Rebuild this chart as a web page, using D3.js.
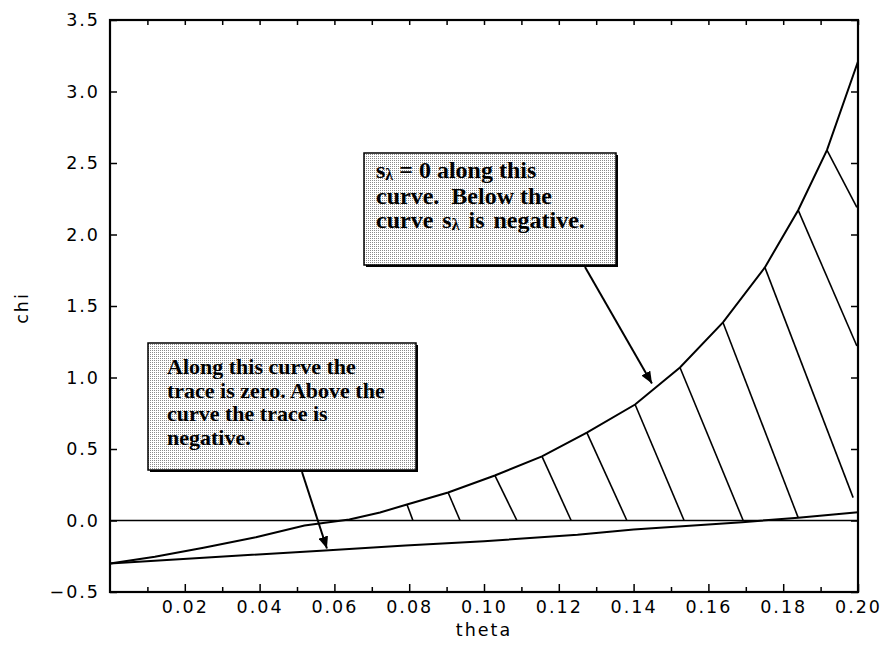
<!DOCTYPE html>
<html>
<head>
<meta charset="utf-8">
<script src="https://cdn.jsdelivr.net/npm/d3@7"></script>
<style>
  body { margin: 0; background: #fff; }
  .note { font-family: "Liberation Serif", "Times New Roman", serif; font-weight: bold; fill: #000; }
</style>
</head>
<body>
<div class="chart"></div>
<script>
// ticks
const thetaTicks = [0.02, 0.04, 0.06, 0.08, 0.10, 0.12, 0.14, 0.16, 0.18, 0.20];
const thetaMinor = [0.01, 0.03, 0.05, 0.07, 0.09, 0.11, 0.13, 0.15, 0.17, 0.19];
const chiTicks = [-0.5, 0.0, 0.5, 1.0, 1.5, 2.0, 2.5, 3.0, 3.5];

// s_lambda = 0 curve (upper)
const upperTheta = [0, 0.012, 0.025, 0.039, 0.052, 0.064, 0.0722, 0.0794, 0.0904, 0.1029, 0.1155, 0.1275, 0.1404, 0.1524, 0.1639, 0.1751, 0.1840, 0.1917, 0.2];
const upperChi = [-0.30, -0.254, -0.19, -0.117, -0.035, 0.007, 0.056, 0.112, 0.196, 0.315, 0.448, 0.615, 0.811, 1.07, 1.385, 1.77, 2.17, 2.59, 3.21];

// trace = 0 curve (lower)
const lowerTheta = [0, 0.025, 0.0575, 0.079, 0.1, 0.125, 0.14, 0.169, 0.184, 0.2];
const lowerChi = [-0.30, -0.26, -0.21, -0.175, -0.145, -0.10, -0.063, -0.012, 0.02, 0.058];

// hatch lines, [theta, chi] start and end
const hatchFrom = [[0.0794, 0.112], [0.0904, 0.196], [0.1029, 0.315], [0.1155, 0.448], [0.1275, 0.615], [0.1404, 0.811],
  [0.1524, 1.07], [0.1639, 1.385], [0.1751, 1.77], [0.1840, 2.17], [0.1917, 2.59]];
const hatchTo = [[0.0810, 0], [0.0936, 0], [0.1088, 0], [0.1233, 0], [0.1382, 0], [0.1535, 0],
  [0.1693, 0], [0.1840, 0.02], [0.1987, 0.16], [0.1997, 1.22], [0.1997, 2.19]];

// annotation arrow tips [theta, chi]
const arrowTips = [[0.1449, 0.958], [0.0580, -0.196]];

const width = 883, height = 657;
const svg = d3.select('.chart').append('svg')
  .attr('width', width)
  .attr('height', height);

const x = d3.scaleLinear().domain([0, 0.2]).range([110, 858]);
const y = d3.scaleLinear().domain([-0.5, 3.5]).range([592, 20]);

const defs = svg.append('defs');
const pat = defs.append('pattern')
  .attr('id', 'dots')
  .attr('width', 2).attr('height', 2)
  .attr('patternUnits', 'userSpaceOnUse');
pat.append('rect').attr('width', 2).attr('height', 2).attr('fill', '#fff');
pat.append('rect').attr('width', 1).attr('height', 1).attr('fill', '#8a8a8a');

defs.append('marker')
  .attr('id', 'head')
  .attr('viewBox', '0 0 12 10')
  .attr('refX', 12).attr('refY', 5)
  .attr('markerWidth', 12).attr('markerHeight', 10)
  .attr('markerUnits', 'userSpaceOnUse')
  .attr('orient', 'auto')
  .append('path')
  .attr('d', 'M0,0 L12,5 L0,10 Z')
  .attr('fill', '#000');

// axes, ticks inward
const fmtX = d3.format('.2f'), fmtY = d3.format('.1f');
svg.append('g').attr('transform', 'translate(0,592)')
  .call(d3.axisBottom(x).tickValues(thetaTicks).tickSize(-8).tickPadding(9).tickFormat(fmtX));
svg.append('g').attr('transform', 'translate(0,592)')
  .call(d3.axisBottom(x).tickValues(thetaMinor).tickSize(-5).tickFormat(''));
svg.append('g').attr('transform', 'translate(0,20)')
  .call(d3.axisTop(x).tickValues(thetaTicks.concat(thetaMinor)).tickSize(-5).tickFormat(''));
svg.append('g').attr('transform', 'translate(110,0)')
  .call(d3.axisLeft(y).tickValues(chiTicks).tickSize(-7).tickPadding(10).tickFormat(fmtY));
svg.append('g').attr('transform', 'translate(858,0)')
  .call(d3.axisRight(y).tickValues(chiTicks).tickSize(-7).tickFormat(''));
svg.selectAll('.domain').remove();
svg.selectAll('.tick line').attr('stroke', '#000').attr('stroke-width', 1.5);
svg.selectAll('.tick text')
  .style('font-family', '"DejaVu Sans", sans-serif')
  .style('font-size', '17.5px')
  .style('letter-spacing', '2px')
  .style('fill', '#000');

// frame
svg.append('rect')
  .attr('x', 110).attr('y', 20)
  .attr('width', 748).attr('height', 572)
  .attr('fill', 'none')
  .attr('stroke', '#000')
  .attr('stroke-width', 2.2);

// zero line
svg.append('line')
  .attr('x1', x(0)).attr('x2', x(0.2))
  .attr('y1', y(0)).attr('y2', y(0))
  .attr('stroke', '#000').attr('stroke-width', 1.5);

const line = d3.line().x(d => x(d[0])).y(d => y(d[1]));

svg.append('path')
  .datum(upperTheta.map((t, i) => [t, upperChi[i]]))
  .attr('d', line)
  .attr('fill', 'none').attr('stroke', '#000').attr('stroke-width', 2);

svg.append('path')
  .datum(lowerTheta.map((t, i) => [t, lowerChi[i]]))
  .attr('d', line)
  .attr('fill', 'none').attr('stroke', '#000').attr('stroke-width', 2);

svg.selectAll('.hatch')
  .data(hatchFrom)
  .enter().append('line')
  .attr('class', 'hatch')
  .attr('x1', d => x(d[0])).attr('y1', d => y(d[1]))
  .attr('x2', (d, i) => x(hatchTo[i][0])).attr('y2', (d, i) => y(hatchTo[i][1]))
  .attr('stroke', '#000').attr('stroke-width', 1.6);

// axis titles
svg.append('text')
  .attr('transform', 'translate(28,308) rotate(-90)')
  .attr('text-anchor', 'middle')
  .style('font-family', '"DejaVu Sans", sans-serif')
  .style('font-size', '17.5px')
  .style('letter-spacing', '2px')
  .text('chi');
svg.append('text')
  .attr('x', 484).attr('y', 636)
  .attr('text-anchor', 'middle')
  .style('font-family', '"DejaVu Sans", sans-serif')
  .style('font-size', '17.5px')
  .style('letter-spacing', '2px')
  .text('theta');

// annotation boxes
function box(bx, by, bw, bh) {
  svg.append('rect').attr('x', bx + 2).attr('y', by + 2)
    .attr('width', bw).attr('height', bh).attr('fill', '#000');
  svg.append('rect').attr('x', bx).attr('y', by)
    .attr('width', bw).attr('height', bh)
    .attr('fill', 'url(#dots)')
    .attr('stroke', '#000').attr('stroke-width', 1.5);
}

box(364, 153, 252, 112);
box(148, 343, 268, 127);

// s_lambda box
const t1 = svg.append('text').attr('class', 'note').style('font-size', '24px').attr('x', 376).attr('y', 178);
t1.append('tspan').text('s');
t1.append('tspan').attr('dy', 2).style('font-size', '16px').text('λ');
t1.append('tspan').attr('dy', -2).text(' = 0 along this');
svg.append('text').attr('class', 'note').style('font-size', '24px').attr('x', 376).attr('y', 204)
  .attr('xml:space', 'preserve').text('curve.  Below the');
const t3 = svg.append('text').attr('class', 'note').style('font-size', '24px').style('word-spacing', '3px')
  .attr('x', 376).attr('y', 228);
t3.append('tspan').text('curve s');
t3.append('tspan').attr('dy', 2).style('font-size', '16px').text('λ');
t3.append('tspan').attr('dy', -2).text(' is negative.');

// trace box
const traceLines = ['Along this curve the', 'trace is zero. Above the', 'curve the trace is', 'negative.'];
svg.selectAll('.tr')
  .data(traceLines)
  .enter().append('text')
  .attr('class', 'note')
  .style('font-size', '22px')
  .attr('x', 167)
  .attr('y', (d, i) => 374 + i * 23.5)
  .text(d => d);

// arrows
svg.append('line')
  .attr('x1', 585).attr('y1', 267)
  .attr('x2', x(arrowTips[0][0])).attr('y2', y(arrowTips[0][1]))
  .attr('stroke', '#000').attr('stroke-width', 2)
  .attr('marker-end', 'url(#head)');
svg.append('line')
  .attr('x1', 302).attr('y1', 472)
  .attr('x2', x(arrowTips[1][0])).attr('y2', y(arrowTips[1][1]))
  .attr('stroke', '#000').attr('stroke-width', 2)
  .attr('marker-end', 'url(#head)');
</script>
</body>
</html>
